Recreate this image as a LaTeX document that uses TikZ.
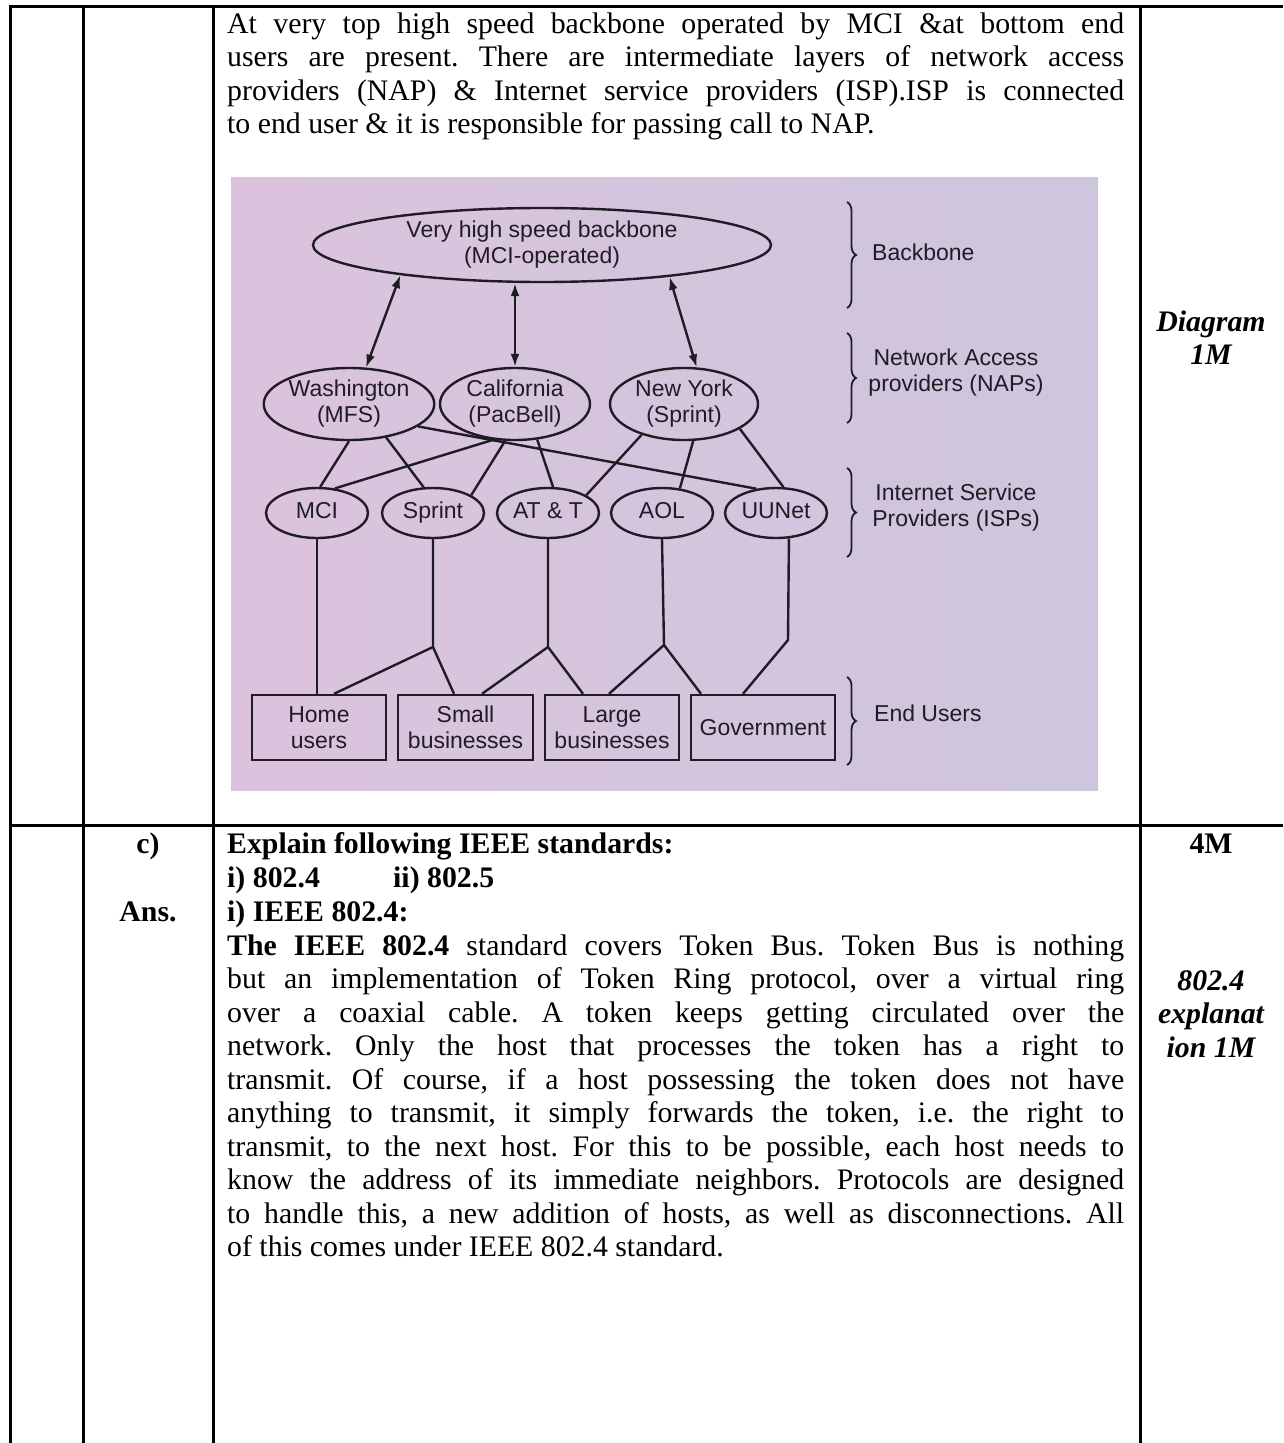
\documentclass[tikz,border=0pt]{standalone}
\usepackage{fontspec}
\setmainfont{Liberation Serif}
\newfontfamily\diagfont{Liberation Sans}
\usetikzlibrary{shapes.geometric,arrows.meta,decorations.pathreplacing}
\definecolor{ink}{RGB}{32,28,36}
\definecolor{photoA}{RGB}{220,195,221}
\definecolor{photoB}{RGB}{205,198,221}
\newcommand{\JustLine}[1]{\makebox[897pt][s]{#1}}
\begin{document}
\frenchspacing
\begin{tikzpicture}[x=1pt,y=-1pt,
  rule/.style={line width=3pt},
  txt/.style={anchor=base west, inner sep=0pt, font=\fontsize{29.8}{33}\selectfont},
  btxt/.style={txt, font=\fontsize{29.8}{33}\selectfont\bfseries},
  markbox/.style={anchor=base, inner sep=0pt, font=\fontsize{29.8}{33}\selectfont\bfseries\itshape},
  bmarkbox/.style={anchor=base, inner sep=0pt, font=\fontsize{29.8}{33}\selectfont\bfseries},
  dtext/.style={font=\diagfont\fontsize{23}{26}\selectfont, text=ink, align=center},
  oval/.style={ellipse, draw=ink, line width=2.4pt, inner sep=0pt, dtext},
  nap/.style={oval, minimum width=150pt, minimum height=72pt},
  isp/.style={oval, minimum width=102pt, minimum height=50pt, text height=16.5pt, text depth=5pt},
  user/.style={rectangle, draw=ink, line width=2.4pt, inner sep=0pt, minimum height=65pt, dtext},
  wire/.style={draw=ink, line width=2.4pt},
  dbl/.style={wire, {Latex[length=13pt,width=9pt]}-{Latex[length=13pt,width=9pt]}},
  brc/.style={draw=ink, line width=1.8pt, decorate, decoration={brace, amplitude=9pt}},
  lbl/.style={dtext, inner sep=0pt}]
\useasboundingbox (0,0) rectangle (1283,1443);
\fill[white] (0,0) rectangle (1283,1443);

% ---------- table rules ----------
\draw[rule] (10,1443) -- (10,6) -- (1283,6);
\draw[rule] (83,6) -- (83,1443);
\draw[rule] (213,6) -- (213,1443);
\draw[rule] (1140,6) -- (1140,1443);
\draw[rule] (10,825) -- (1283,825);

% ---------- first row text ----------
\node[txt] (p1a) at (227,33) {\JustLine{At very top high speed backbone operated by MCI \&at bottom end}};
\node[txt] (p1b) at (227,66.5) {\JustLine{users are present. There are intermediate layers of network access}};
\node[txt] (p1c) at (227,100) {\JustLine{providers (NAP) \& Internet service providers (ISP).ISP is connected}};
\node[txt] (p1d) at (227,133.5) {to end user \& it is responsible for passing call to NAP.};

\node[markbox] (dg1) at (1211,331) {Diagram};
\node[markbox] (dg2) at (1211,364.5) {1M};

% ---------- photo ----------
\shade[left color=photoA, right color=photoB] (231,177) rectangle (1098,790);

\node[oval, minimum width=458pt, minimum height=74pt] (bb) at (542,245) {Very high speed backbone\\(MCI-operated)};

\node[nap] (was) at (349,404) {Washington\\(MFS)};
\node[nap] (cal) at (515,404) {California\\(PacBell)};
\node[nap, minimum width=148pt] (ny) at (684,404) {New York\\(Sprint)};

\node[isp] (mci) at (317,513) {MCI};
\node[isp] (spr) at (433,513) {Sprint};
\node[isp] (att) at (548,513) {AT \& T};
\node[isp] (aol) at (662,513) {AOL};
\node[isp] (uun) at (776,513) {UUNet};

\node[user, minimum width=134pt] (home) at (319,727.5) {Home\\users};
\node[user, minimum width=135pt] (small) at (465.5,727.5) {Small\\businesses};
\node[user, minimum width=134pt] (large) at (612,727.5) {Large\\businesses};
\node[user, minimum width=144pt] (gov) at (763,727.5) {Government};

% backbone <-> NAPs
\draw[dbl] (bb.-168.7) -- (was.65.6);
\draw[dbl] (bb.south -| cal.north) -- (cal.north);
\draw[dbl] (bb.-14.7) -- (ny.71.3);

% NAPs -- ISPs
\draw[wire] (was.south) -- (mci.83);
\draw[wire] (was.-42.3) -- (spr.110);
\draw[wire] (was.-18.9) -- (uun.129);
\draw[wire] (cal.-121.3) -- (mci.54);
\draw[wire] (cal.-105.6) -- (spr.25);
\draw[wire] (cal.-58.7) -- (att.79);
\draw[wire] (ny.-144.8) -- (att.25);
\draw[wire] (ny.-76) -- (aol.54);
\draw[wire] (ny.-24.5) -- (uun.74);

% ISPs -- end users
\coordinate (sprJ) at (433,647);
\coordinate (attJ) at (548,647);
\coordinate (aolJ) at (664,645);
\coordinate (uunJ) at (788,640);
\draw[wire] (mci.south) -- (mci.south |- home.north);
\draw[wire] (spr.south) -- (sprJ) -- ([xshift=15pt]home.north);
\draw[wire] (sprJ) -- ([xshift=-11.5pt]small.north);
\draw[wire] (att.south) -- (attJ) -- ([xshift=16.5pt]small.north);
\draw[wire] (attJ) -- ([xshift=-29pt]large.north);
\draw[wire] (aol.south) -- (aolJ) -- ([xshift=-3pt]large.north);
\draw[wire] (aolJ) -- ([xshift=-62pt]gov.north);
\draw[wire] (uun.-63.7) -- (uunJ) -- ([xshift=-20pt]gov.north);

% braces and layer labels
\draw[brc] (847,202) -- (847,308);
\draw[brc] (847,333) -- (847,423);
\draw[brc] (847,468) -- (847,557);
\draw[brc] (847,677) -- (847,765);
\node[lbl, anchor=west] (lbb) at (872,252) {Backbone};
\node[lbl] (lnap) at (956,373) {Network Access\\providers (NAPs)};
\node[lbl] (lisp) at (956,508) {Internet Service\\Providers (ISPs)};
\node[lbl, anchor=west] (lend) at (874,713) {End Users};

% ---------- second row ----------
\node[bmarkbox] (qc) at (148,853) {c)};
\node[bmarkbox] (qa) at (148,921) {Ans.};
\node[bmarkbox] (m4) at (1211,853) {4M};

\node[btxt] (q1) at (227,853) {Explain following IEEE standards:};
\node[btxt] (q2) at (227,887) {\makebox[166pt][l]{i) 802.4}ii) 802.5};
\node[btxt] (q3) at (227,921) {i) IEEE 802.4:};

\node[txt] (l1) at (227,955) {\JustLine{\textbf{The IEEE 802.4} standard covers Token Bus. Token Bus is nothing}};
\node[txt] (l2) at (227,988.5) {\JustLine{but an implementation of Token Ring protocol, over a virtual ring}};
\node[txt] (l3) at (227,1022) {\JustLine{over a coaxial cable. A token keeps getting circulated over the}};
\node[txt] (l4) at (227,1055.5) {\JustLine{network. Only the host that processes the token has a right to}};
\node[txt] (l5) at (227,1089) {\JustLine{transmit. Of course, if a host possessing the token does not have}};
\node[txt] (l6) at (227,1122.5) {\JustLine{anything to transmit, it simply forwards the token, i.e. the right to}};
\node[txt] (l7) at (227,1156) {\JustLine{transmit, to the next host. For this to be possible, each host needs to}};
\node[txt] (l8) at (227,1189.5) {\JustLine{know the address of its immediate neighbors. Protocols are designed}};
\node[txt] (l9) at (227,1223) {\JustLine{to handle this, a new addition of hosts, as well as disconnections. All}};
\node[txt] (l10) at (227,1256.5) {of this comes under IEEE 802.4 standard.};

\node[markbox] (e1) at (1211,990) {802.4};
\node[markbox] (e2) at (1211,1023.5) {explanat};
\node[markbox] (e3) at (1211,1057) {ion 1M};
\end{tikzpicture}
\end{document}
